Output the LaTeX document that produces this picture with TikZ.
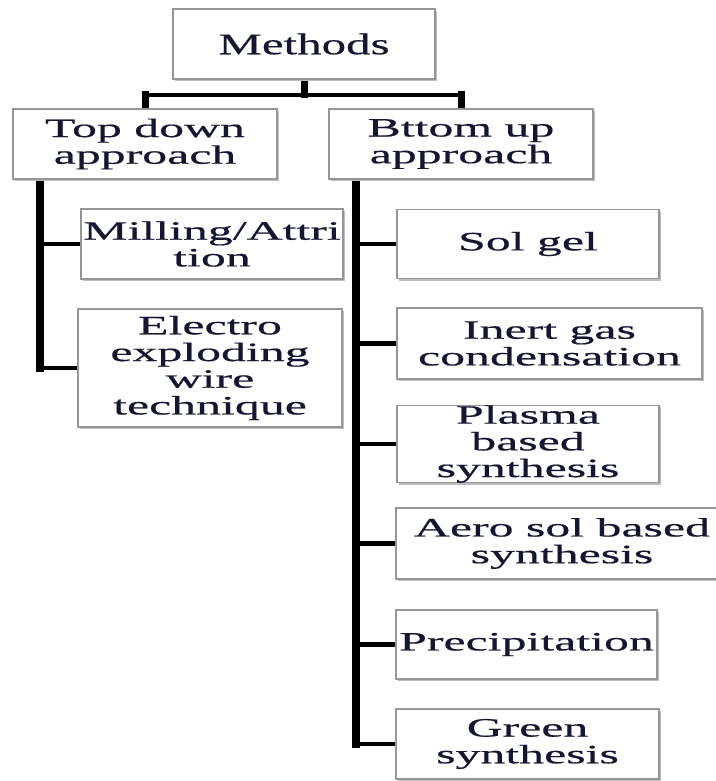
\documentclass[tikz,border=0pt]{standalone}
\usepackage{fontspec}
\setmainfont{Liberation Serif}[FakeStretch=1.88, FakeBold=0.6]
\newfontfamily\methodsfont{Liberation Serif}[FakeStretch=1.63, FakeBold=0.4]
\usetikzlibrary{shadows,backgrounds}
\definecolor{txt}{RGB}{22,22,48}
\definecolor{boxline}{RGB}{150,150,150}
\definecolor{shadowc}{RGB}{190,190,190}
\tikzset{
  box/.style={draw=boxline, line width=1.3pt, fill=white, inner sep=0pt,
    align=center, text=txt, font=\fontsize{26.5}{26.7}\selectfont,
    drop shadow={shadow xshift=2pt, shadow yshift=-2pt, fill=shadowc, opacity=1}},
  vconn/.style={line width=7pt, black, line cap=rect},
  hconn/.style={line width=4.5pt, black},
  spine/.style={line width=8pt, black, line cap=rect},
  branch/.style={line width=4.5pt, black},
}
\begin{document}
\begin{tikzpicture}[x=1pt, y=-1pt]
\useasboundingbox (0,0) rectangle (715,781);
% boxes
\node[box, minimum width=262pt, minimum height=70pt, font=\methodsfont\fontsize{30}{32}\selectfont] (me) at (304,44) {Methods};
\node[box, minimum width=264pt, minimum height=70pt] (td) at (145,144) {Top down\\approach};
\node[box, minimum width=264pt, minimum height=70pt] (bu) at (461,144) {Bttom up\\approach};
\node[box, minimum width=262pt, minimum height=70pt] (mi) at (212,244) {Milling/Attri\\tion};
\node[box, minimum width=264pt, minimum height=118pt] (el) at (210,368) {Electro\\exploding\\wire\\technique};
\node[box, minimum width=262pt, minimum height=69pt] (sg) at (528,244) {Sol gel};
\node[box, minimum width=305pt, minimum height=71pt] (ig) at (549.5,343.5) {Inert gas\\condensation};
\node[box, minimum width=262pt, minimum height=70pt] (pl) at (528,444) {Plasma\\based\\synthesis};
\node[box, minimum width=332pt, minimum height=71pt] (ae) at (562,543.5) {Aero sol based\\synthesis};
\node[box, minimum width=261pt, minimum height=69pt] (pr) at (526.5,644.5) {Precipitation};
\node[box, minimum width=263pt, minimum height=70pt] (gr) at (527.5,744) {Green\\synthesis};
% connectors
\begin{scope}[on background layer]
\coordinate (hbar) at (0,95);
\draw[vconn] (me.south) -- (me.south |- hbar);
\draw[hconn] (td.north |- hbar) -- (bu.north |- hbar);
\draw[vconn] (td.north |- hbar) -- (td.north);
\draw[vconn] (bu.north |- hbar) -- (bu.north);
\coordinate (tdx) at ([xshift=28pt]td.south west);
\draw[spine] (tdx) -- (tdx |- el.west);
\draw[branch] (tdx |- mi.west) -- (mi.west);
\draw[branch] (tdx |- el.west) -- (el.west);
\coordinate (bux) at ([xshift=28pt]bu.south west);
\draw[spine] (bux) -- (bux |- gr.west);
\draw[branch] (bux |- sg.west) -- (sg.west);
\draw[branch] (bux |- ig.west) -- (ig.west);
\draw[branch] (bux |- pl.west) -- (pl.west);
\draw[branch] (bux |- ae.west) -- (ae.west);
\draw[branch] (bux |- pr.west) -- (pr.west);
\draw[branch] (bux |- gr.west) -- (gr.west);
\end{scope}
\end{tikzpicture}
\end{document}
